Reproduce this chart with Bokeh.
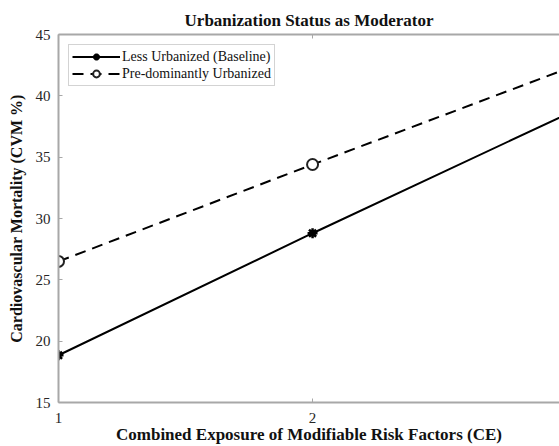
from bokeh.plotting import figure
from bokeh.models import Range1d, LinearAxis, FixedTicker, Legend, LegendItem, CustomJSTickFormatter
from bokeh.embed import file_html
from bokeh.resources import INLINE

ce = [1, 2, 3]
less_urbanized = [18.85, 28.8, 38.5]
pre_dominantly_urbanized = [26.5, 34.4, 42.2]
x_ticks = [1, 2, 3]
y_ticks = [15, 20, 25, 30, 35, 40, 45]

FONT = "Liberation Serif"
AXC = "#a8a8a8"

p = figure(width=559, height=446, output_backend="svg", toolbar_location=None,
           x_range=Range1d(1, 2.972), y_range=Range1d(15, 45),
           min_border_left=58, min_border_right=0, min_border_top=34, min_border_bottom=10)
p.grid.visible = False
p.outline_line_color = None
p.background_fill_color = "white"
p.border_fill_color = "white"

p.title.text = "Urbanization Status as Moderator"
p.title.align = "center"
p.title.text_font = FONT
p.title.text_font_size = "17px"
p.title.text_font_style = "bold"
p.title.text_color = "#111111"
p.title.offset = 0

for ax in [p.xaxis[0], p.yaxis[0]]:
    ax.axis_line_color = AXC
    ax.axis_line_width = 2
    ax.major_tick_line_color = AXC
    ax.major_tick_in = 4
    ax.major_tick_out = 0
    ax.minor_tick_line_color = None
    ax.major_label_text_font = FONT
    ax.major_label_text_font_size = "15px"
    ax.major_label_text_color = "#262626"
    ax.axis_label_text_font = FONT
    ax.axis_label_text_font_style = "bold"
    ax.axis_label_text_color = "#111111"
    ax.major_label_standoff = 8

p.xaxis[0].ticker = FixedTicker(ticks=x_ticks)
p.yaxis[0].ticker = FixedTicker(ticks=y_ticks)
p.xaxis[0].axis_label = "Combined Exposure of Modifiable Risk Factors (CE)"
p.yaxis[0].axis_label = "Cardiovascular Mortality (CVM %)"
p.xaxis[0].axis_label_text_font_size = "17px"
p.yaxis[0].axis_label_text_font_size = "16px"
p.xaxis[0].major_label_standoff = 10
p.xaxis[0].axis_label_standoff = -1
p.yaxis[0].axis_label_standoff = 8

top = LinearAxis(ticker=FixedTicker(ticks=x_ticks),
                 formatter=CustomJSTickFormatter(code="return ''"),
                 axis_line_color=AXC, axis_line_width=2, major_tick_line_color=AXC,
                 major_tick_in=4, major_tick_out=0, minor_tick_line_color=None,
                 major_label_standoff=0)
p.add_layout(top, "above")

l1 = p.line(ce, less_urbanized, line_color="black", line_width=2)
s1 = p.scatter(ce, less_urbanized, marker="asterisk", size=10, line_color="black", line_width=2.5)
l2 = p.line(ce, pre_dominantly_urbanized, line_color="black", line_width=2, line_dash="11 7")
s2 = p.scatter(ce, pre_dominantly_urbanized, marker="circle", size=11, line_color="#222222",
               fill_color="white", line_width=2)

legend = Legend(items=[LegendItem(label="Less Urbanized (Baseline)", renderers=[l1, s1]),
                       LegendItem(label="Pre-dominantly Urbanized", renderers=[l2, s2])],
                location="top_left")
legend.label_text_font = FONT
legend.label_text_font_size = "14px"
legend.label_text_color = "#111111"
legend.border_line_color = AXC
legend.border_line_width = 1.5
legend.background_fill_color = "white"
legend.background_fill_alpha = 1
legend.glyph_width = 48
legend.glyph_height = 17
legend.label_height = 17
legend.spacing = 0
legend.padding = 3
legend.margin = 10
legend.label_standoff = 2
p.add_layout(legend, "center")

open("out.html", "w").write(file_html(p, INLINE))
